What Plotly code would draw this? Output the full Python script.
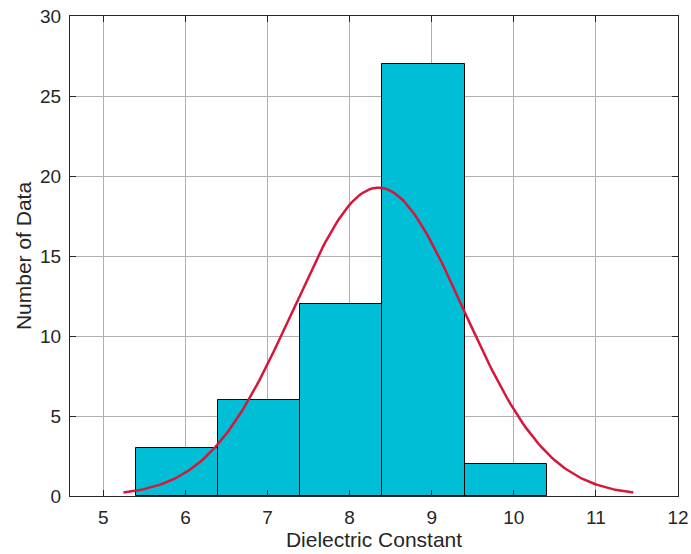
import numpy as np
import plotly.graph_objects as go

bin_edges = [5.4, 6.4, 7.4, 8.4, 9.4, 10.4]
counts = [3, 6, 12, 27, 2]
fit_mu = 8.35
fit_sigma = 1.035
x_ticks = [5, 6, 7, 8, 9, 10, 11, 12]
y_ticks = [0, 5, 10, 15, 20, 25, 30]

centers = [(a + b) / 2 for a, b in zip(bin_edges[:-1], bin_edges[1:])]
widths = [b - a for a, b in zip(bin_edges[:-1], bin_edges[1:])]
n_total = sum(counts)
bw = widths[0]
xc = np.linspace(fit_mu - 3 * fit_sigma, fit_mu + 3 * fit_sigma, 200)
yc = n_total * bw / (fit_sigma * np.sqrt(2 * np.pi)) * np.exp(-0.5 * ((xc - fit_mu) / fit_sigma) ** 2)

fig = go.Figure()
fig.add_trace(go.Bar(x=centers, y=counts, width=widths,
                     marker=dict(color="rgb(0,190,214)", line=dict(color="black", width=1)),
                     showlegend=False))
fig.add_trace(go.Scatter(x=xc, y=yc, mode="lines",
                         line=dict(color="rgb(215,22,59)", width=2.5), showlegend=False))

FONT = "Liberation Sans, Arial"
axis_common = dict(showline=True, linecolor="#262626", linewidth=1, mirror="ticks",
                   ticks="inside", ticklen=6, tickcolor="#262626", automargin=False,
                   showgrid=True, gridcolor="#b0b0b0", gridwidth=1, zeroline=False,
                   ticklabelstandoff=4,
                   tickfont=dict(family=FONT, size=19, color="#262626"))
fig.update_layout(
    width=691, height=554,
    margin=dict(l=70, r=13, t=16, b=58),
    plot_bgcolor="white", paper_bgcolor="white",
    bargap=0,
    xaxis=dict(range=[4.594, 12], tickvals=x_ticks, **axis_common,
               title=dict(text="Dielectric Constant", standoff=5,
                          font=dict(family=FONT, size=21, color="#262626"))),
    yaxis=dict(range=[0, 30], tickvals=y_ticks, **axis_common,
               title=dict(text="Number of Data", standoff=2,
                          font=dict(family=FONT, size=21, color="#262626"))),
)
fig.write_html("out.html")
